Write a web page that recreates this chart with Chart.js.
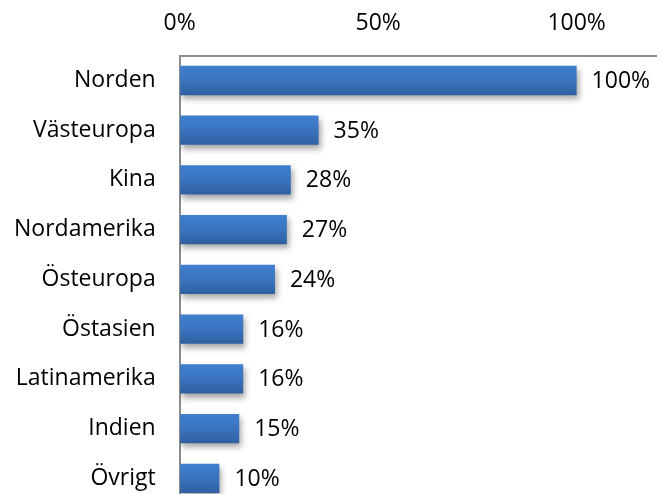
<!DOCTYPE html>
<html>
<head>
<meta charset="utf-8">
<script src="https://cdn.jsdelivr.net/npm/chart.js@4"></script>
<style>
  html, body { margin: 0; padding: 0; background: #fff; overflow: hidden; }
  #wrap { position: relative; width: 667px; height: 517px; }
</style>
</head>
<body>
<div id="wrap"><canvas id="chart"></canvas></div>
<script>
const regions = ['Norden', 'Västeuropa', 'Kina', 'Nordamerika', 'Östeuropa', 'Östasien', 'Latinamerika', 'Indien', 'Övrigt'];
const shares = [100, 35, 28, 27, 24, 16, 16, 15, 10];
const tickValues = [0, 50, 100];

const FONT = "'Open Sans', sans-serif";
const FONT_SIZE = 23;
const BAR_PCT = 0.59;

// soft drop shadow under the bars, like the office chart
const barShadow = {
    id: 'barShadow',
    beforeDatasetsDraw(chart) {
        const ctx = chart.ctx;
        ctx.save();
        ctx.shadowColor = 'rgba(0,0,0,0.35)';
        ctx.shadowBlur = 6;
        ctx.shadowOffsetX = 2;
        ctx.shadowOffsetY = 4;
    },
    afterDatasetsDraw(chart) {
        chart.ctx.restore();
    }
};

// value labels right of each bar
const valueLabels = {
    id: 'valueLabels',
    afterDatasetsDraw(chart) {
        const ctx = chart.ctx;
        const meta = chart.getDatasetMeta(0);
        ctx.save();
        ctx.font = FONT_SIZE + 'px ' + FONT;
        ctx.fillStyle = '#000';
        ctx.textAlign = 'left';
        ctx.textBaseline = 'middle';
        meta.data.forEach((bar, i) => {
            ctx.fillText(shares[i] + '%', bar.x + 15, bar.y + 1);
        });
        ctx.restore();
    }
};

function barGradient(context) {
    const chart = context.chart;
    const yScale = chart.scales.y;
    if (!chart.chartArea || !yScale) return '#3a73bf';
    const cy = yScale.getPixelForValue(context.dataIndex);
    const half = yScale.height / regions.length * BAR_PCT / 2;
    if (!isFinite(cy) || !isFinite(half)) return '#3a73bf';
    const g = chart.ctx.createLinearGradient(0, cy - half, 0, cy + half);
    g.addColorStop(0, '#3f80cf');
    g.addColorStop(0.5, '#3a73bf');
    g.addColorStop(1, '#2f5f9f');
    return g;
}

// invisible tick marks give the gap between labels and axis line
function hiddenTicks(len) {
    return { display: true, drawOnChartArea: false, tickLength: len, tickColor: 'rgba(0,0,0,0)' };
}

const ctx = document.getElementById('chart').getContext('2d');

new Chart(ctx, {
    type: 'bar',
    data: {
        labels: regions,
        datasets: [{
            data: shares,
            backgroundColor: barGradient,
            borderWidth: 0,
            barPercentage: BAR_PCT,
            categoryPercentage: 1
        }]
    },
    options: {
        indexAxis: 'y',
        responsive: true,
        maintainAspectRatio: false,
        animation: false,
        layout: { padding: { top: 10, right: 11, left: 14, bottom: 9 } },
        plugins: {
            legend: { display: false },
            tooltip: { enabled: false }
        },
        scales: {
            x: {
                position: 'top',
                min: 0,
                max: 120,
                grid: hiddenTicks(18),
                border: { display: true, color: '#8c8c8c', width: 2 },
                afterBuildTicks: axis => {
                    axis.ticks = tickValues.map(v => ({ value: v }));
                },
                ticks: {
                    color: '#000',
                    font: { family: FONT, size: FONT_SIZE },
                    padding: 0,
                    maxRotation: 0,
                    callback: v => v + '%'
                }
            },
            y: {
                grid: hiddenTicks(24),
                border: { display: true, color: '#8c8c8c', width: 2 },
                ticks: {
                    color: '#000',
                    font: { family: FONT, size: FONT_SIZE },
                    padding: 0
                }
            }
        }
    },
    plugins: [barShadow, valueLabels]
});
</script>
</body>
</html>
